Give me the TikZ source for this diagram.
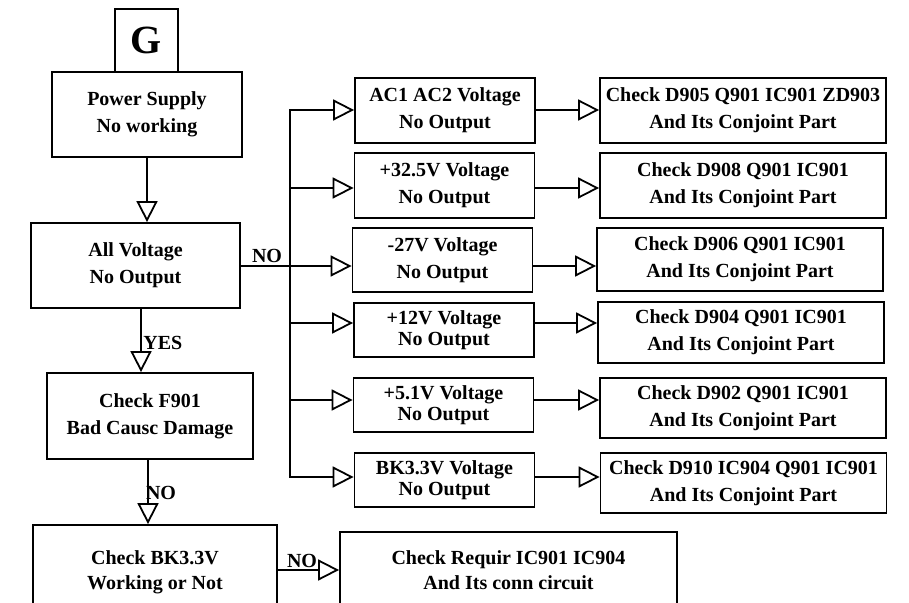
\documentclass[tikz,border=0pt]{standalone}
\usepackage{fontspec}
\setmainfont{Liberation Serif}
\usetikzlibrary{arrows.meta,calc}
\tikzset{
  box/.style={draw,line width=0.9pt,align=center,inner sep=2pt,font=\fontsize{10}{13.5}\selectfont\bfseries},
  tbox/.style={box,font=\fontsize{10}{10.5}\selectfont\bfseries},
  mid/.style={minimum width=90pt,minimum height=32.5pt},
  chk/.style={minimum width=143pt,minimum height=32pt},
  arr/.style={-{Triangle[open,length=10.5pt,width=10.5pt,fill=white]},line width=0.9pt},
  wire/.style={line width=0.9pt,line cap=rect},
  lab/.style={font=\fontsize{10}{12}\selectfont\bfseries,inner sep=0pt},
}

\begin{document}
\begin{tikzpicture}[x=0.5pt,y=-0.5pt]
\useasboundingbox (0,0) rectangle (909,603);
\clip (0,0) rectangle (909,603);
% left column
\node[box,minimum width=31.5pt,minimum height=31.5pt,font=\fontsize{20}{20}\selectfont\bfseries] (g) at (146.5,40.5) {G};
\node[box,minimum width=95pt,minimum height=42.5pt] (power) at (147,114.5) {Power Supply\\No working};
\node[box,minimum width=104.5pt,minimum height=42.5pt] (allv) at (135.5,265.5) {All Voltage\\No Output};
\node[box,minimum width=103pt,minimum height=43pt] (f901) at (150,416) {Check F901\\Bad Causc Damage};
\node[box,minimum width=122pt,minimum height=47pt,font=\fontsize{10}{12.5}\selectfont\bfseries] (bk) at (155,572) {Check BK3.3V\\Working or Not};
\node[box,minimum width=168.5pt,minimum height=38pt,font=\fontsize{10}{12.5}\selectfont\bfseries] (req) at (508.5,570) {Check Requir IC901 IC904\\And Its conn circuit};
% voltage boxes
\node[box,mid] (m1) at (445,110.5) {AC1 AC2 Voltage\\No Output};
\node[box,mid] (m2) at (444.5,185.5) {+32.5V Voltage\\No Output};
\node[box,mid,minimum height=32pt] (m3) at (442.5,260) {-27V Voltage\\No Output};
\node[tbox,mid,minimum height=27pt] (m4) at (444,330) {+12V Voltage\\No Output};
\node[tbox,mid,minimum height=27pt] (m5) at (443.5,405) {+5.1V Voltage\\No Output};
\node[tbox,mid,minimum height=27pt] (m6) at (444.5,480) {BK3.3V Voltage\\No Output};
% check boxes
\node[box,chk,minimum height=32.5pt] (r1) at (743,110.5) {Check D905 Q901 IC901 ZD903\\And Its Conjoint Part};
\node[box,chk,minimum height=32.5pt] (r2) at (743,185.5) {Check D908 Q901 IC901\\And Its Conjoint Part};
\node[box,chk,minimum height=31.5pt] (r3) at (740,259.5) {Check D906 Q901 IC901\\And Its Conjoint Part};
\node[box,chk,minimum height=30.5pt] (r4) at (741,332.5) {Check D904 Q901 IC901\\And Its Conjoint Part};
\node[box,chk,minimum height=30pt] (r5) at (743,408) {Check D902 Q901 IC901\\And Its Conjoint Part};
\node[box,chk,minimum height=30pt] (r6) at (743.5,483) {Check D910 IC904 Q901 IC901\\And Its Conjoint Part};
% branches
\foreach \n/\y in {1/110,2/188,3/266,4/323,5/400,6/477}
{\coordinate (b\n) at (290,\y);
 \draw[arr] (b\n) -- (b\n -| m\n.west);
 \draw[arr] (b\n -| m\n.east) -- (b\n -| r\n.west);}
\draw[wire] (b1) -- (b6);
\draw[wire] (allv.east |- b3) -- (b3);
% main flow
\coordinate (ys) at ($(allv.south)+(5.5,0)$);
\coordinate (ns) at ($(f901.south)+(-2,0)$);
\draw[arr] (power.south) -- (power.south |- allv.north);
\draw[arr] (ys) -- (ys |- f901.north);
\draw[arr] (ns) -- (ns |- bk.north);
\draw[arr] (bk.east |- req.west) -- (req.west);
\node[lab] (no1) at (267,256) {NO};
\node[lab,anchor=west] (yes) at (143,343) {YES};
\node[lab] (no2) at (161,493) {NO};
\node[lab] (no3) at (302,561) {NO};
\end{tikzpicture}
\end{document}
